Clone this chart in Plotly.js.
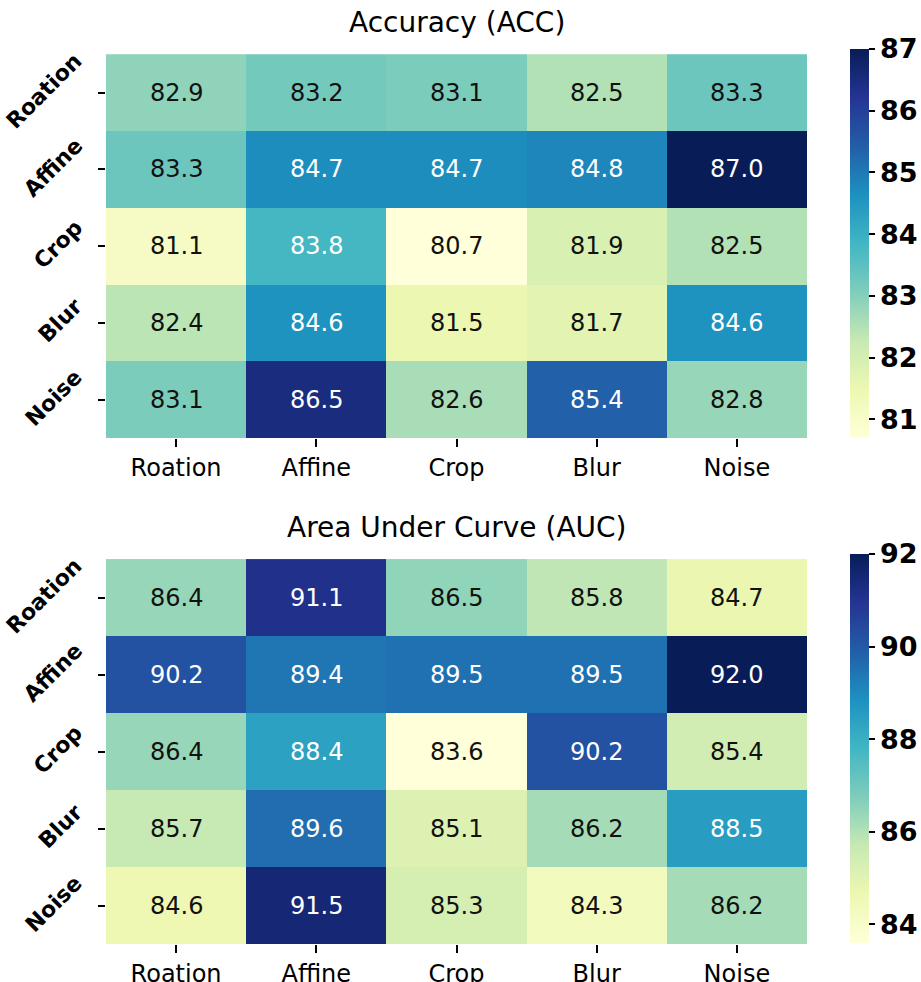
<!DOCTYPE html>
<html>
<head>
<meta charset="utf-8">
<script src="https://cdn.plot.ly/plotly-3.0.1.min.js"></script>
<style>html,body{margin:0;padding:0;background:#fff;}#chart{width:921px;height:982px;}</style>
</head>
<body>
<div id="chart"></div>
<script>
const categories = ["Roation", "Affine", "Crop", "Blur", "Noise"];
const accValues = [
  [82.9, 83.2, 83.1, 82.5, 83.3],
  [83.3, 84.7, 84.7, 84.8, 87.0],
  [81.1, 83.8, 80.7, 81.9, 82.5],
  [82.4, 84.6, 81.5, 81.7, 84.6],
  [83.1, 86.5, 82.6, 85.4, 82.8]
];
const aucValues = [
  [86.4, 91.1, 86.5, 85.8, 84.7],
  [90.2, 89.4, 89.5, 89.5, 92.0],
  [86.4, 88.4, 83.6, 90.2, 85.4],
  [85.7, 89.6, 85.1, 86.2, 88.5],
  [84.6, 91.5, 85.3, 84.3, 86.2]
];
const accTicks = [81, 82, 83, 84, 85, 86, 87];
const aucTicks = [84, 86, 88, 90, 92];
const titles = ["Accuracy (ACC)", "Area Under Curve (AUC)"];

const YlGnBu = [
  [0.0, "#ffffd9"], [0.125, "#edf8b1"], [0.25, "#c7e9b4"], [0.375, "#7fcdbb"],
  [0.5, "#41b6c4"], [0.625, "#1d91c0"], [0.75, "#225ea8"], [0.875, "#253494"], [1.0, "#081d58"]
];
const FONT = "DejaVu Sans, Verdana, sans-serif";

function flatMinMax(z) {
  const f = z.flat();
  return [Math.min(...f), Math.max(...f)];
}

const traces = [];
const annotations = [];
[[accValues, accTicks, "x", "y", 1], [aucValues, aucTicks, "x2", "y2", 0.4358]].forEach(([z, ticks, xa, ya, cbTop], k) => {
  const [mn, mx] = flatMinMax(z);
  traces.push({
    type: "heatmap", z: z, x: categories, y: categories,
    xaxis: xa, yaxis: ya, colorscale: YlGnBu, zmin: mn, zmax: mx,
    hoverinfo: "z",
    colorbar: {
      xref: "container", yref: "paper",
      x: 850 / 921, xanchor: "left",
      y: cbTop, yanchor: "top",
      len: 389, lenmode: "pixels", thickness: 19, xpad: 0, ypad: 0,
      outlinewidth: 0, ticks: "outside", ticklen: 6, tickwidth: 2, tickcolor: "#000",
      tickvals: ticks, ticktext: ticks.map(String),
      tickfont: {family: FONT, size: 27, color: "#000", weight: "bold"}
    }
  });
  z.forEach((row, i) => row.forEach((v, j) => {
    const t = (v - mn) / (mx - mn);
    annotations.push({
      x: categories[j], y: categories[i], xref: xa, yref: ya,
      text: v.toFixed(1), showarrow: false,
      font: {family: FONT, size: 24, color: t > 0.45 ? "#ffffff" : "#111111"}
    });
  }));
  categories.forEach((c) => {
    annotations.push({
      x: 0, xref: "paper", xshift: -16, xanchor: "right",
      y: c, yref: ya, yanchor: "middle", yshift: 2,
      text: c, textangle: -45, showarrow: false,
      font: {family: FONT, size: 22, color: "#000", weight: "bold"}
    });
  });
});

annotations.push({text: titles[0], xref: "paper", yref: "paper", x: 0.5, y: 1, yshift: 27, yanchor: "middle", showarrow: false, font: {family: FONT, size: 28, color: "#000"}});
annotations.push({text: titles[1], xref: "paper", yref: "paper", x: 0.5, y: 0.4358, yshift: 26, yanchor: "middle", showarrow: false, font: {family: FONT, size: 28, color: "#000"}});

const axX = {showgrid: false, zeroline: false, ticks: "outside", ticklen: 8, tickwidth: 2, tickcolor: "#000", showline: false,
  automargin: false, tickfont: {family: FONT, size: 24, color: "#000"}};
const axY = {showgrid: false, zeroline: false, ticks: "outside", ticklen: 7, tickwidth: 2, tickcolor: "#000", showline: false,
  automargin: false, autorange: "reversed", showticklabels: false};

const layout = {
  width: 921, height: 982,
  margin: {l: 106, r: 114, t: 49, b: 38},
  paper_bgcolor: "#fff", plot_bgcolor: "#fff",
  showlegend: false,
  xaxis: Object.assign({}, axX, {anchor: "y", domain: [0, 1]}),
  yaxis: Object.assign({}, axY, {anchor: "x", domain: [0.5654, 1]}),
  xaxis2: Object.assign({}, axX, {anchor: "y2", domain: [0, 1]}),
  yaxis2: Object.assign({}, axY, {anchor: "x2", domain: [0, 0.4358]}),
  annotations: annotations
};

Plotly.newPlot("chart", traces, layout, {displayModeBar: false, staticPlot: true});
</script>
</body>
</html>
